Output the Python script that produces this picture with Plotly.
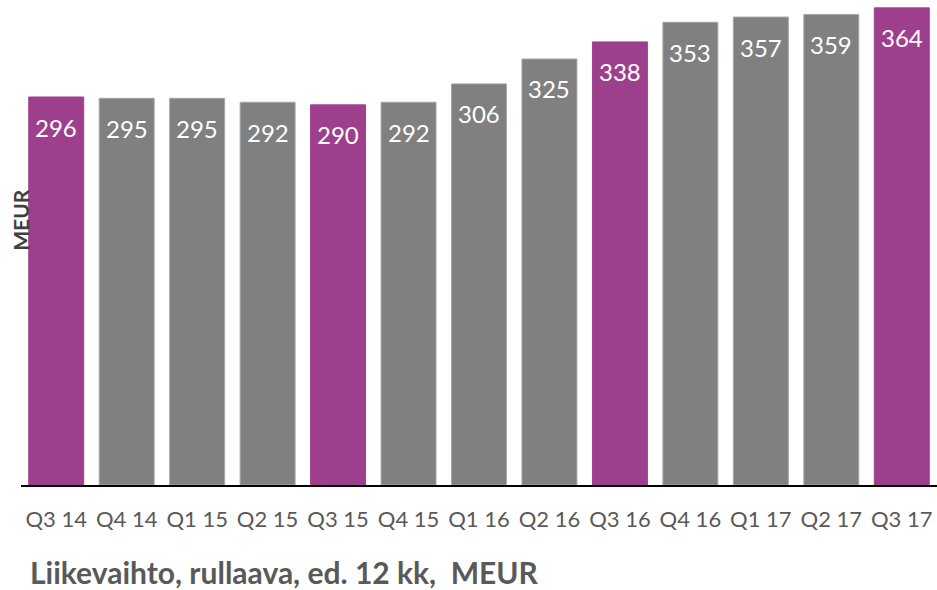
import plotly.graph_objects as go

categories = ["Q3 14", "Q4 14", "Q1 15", "Q2 15", "Q3 15", "Q4 15", "Q1 16",
              "Q2 16", "Q3 16", "Q4 16", "Q1 17", "Q2 17", "Q3 17"]
values = [296, 295, 295, 292, 290, 292, 306, 325, 338, 353, 357, 359, 364]
highlight = [True, False, False, False, True, False, False, False, True, False, False, False, True]

PURPLE = "#9e3f8e"
GRAY = "#808080"

colors = [PURPLE if h else GRAY for h in highlight]
line_colors = [PURPLE if h else "#a6a6a6" for h in highlight]

fig = go.Figure()
fig.add_trace(go.Bar(
    x=categories, y=values,
    marker=dict(color=colors, line=dict(color=line_colors, width=1)),
    hoverinfo="x+y",
))

for c, v in zip(categories, values):
    fig.add_annotation(x=c, y=v, text=str(v), showarrow=False,
                       yanchor="middle", yshift=-30,
                       font=dict(family="Lato", size=24, color="white"))

fig.add_annotation(xref="paper", yref="paper", x=-0.0005, y=0.546,
                   text="<b>MEUR</b>", textangle=-90, showarrow=False,
                   xanchor="center", yanchor="middle",
                   font=dict(family="Lato", size=21, color="#404040"))

fig.add_annotation(xref="paper", yref="paper", x=0.008, y=-0.179,
                   text="<b>Liikevaihto, rullaava, ed. 12 kk,  MEUR</b>",
                   showarrow=False, xanchor="left", yanchor="middle",
                   font=dict(family="Lato", size=30, color="#595959"))

fig.update_layout(
    width=937, height=590,
    margin=dict(l=21, r=0, t=0, b=105),
    plot_bgcolor="white", paper_bgcolor="white",
    bargap=0.22,
    showlegend=False,
    xaxis=dict(showline=True, linecolor="black", linewidth=1.5,
               tickfont=dict(family="Lato", size=22, color="#595959"),
               ticks="", showgrid=False, ticklabelstandoff=14),
    yaxis=dict(range=[0, 370], visible=False),
)

fig.write_html("out.html", config={"displayModeBar": False},
               post_script="document.body.style.margin='0';")
